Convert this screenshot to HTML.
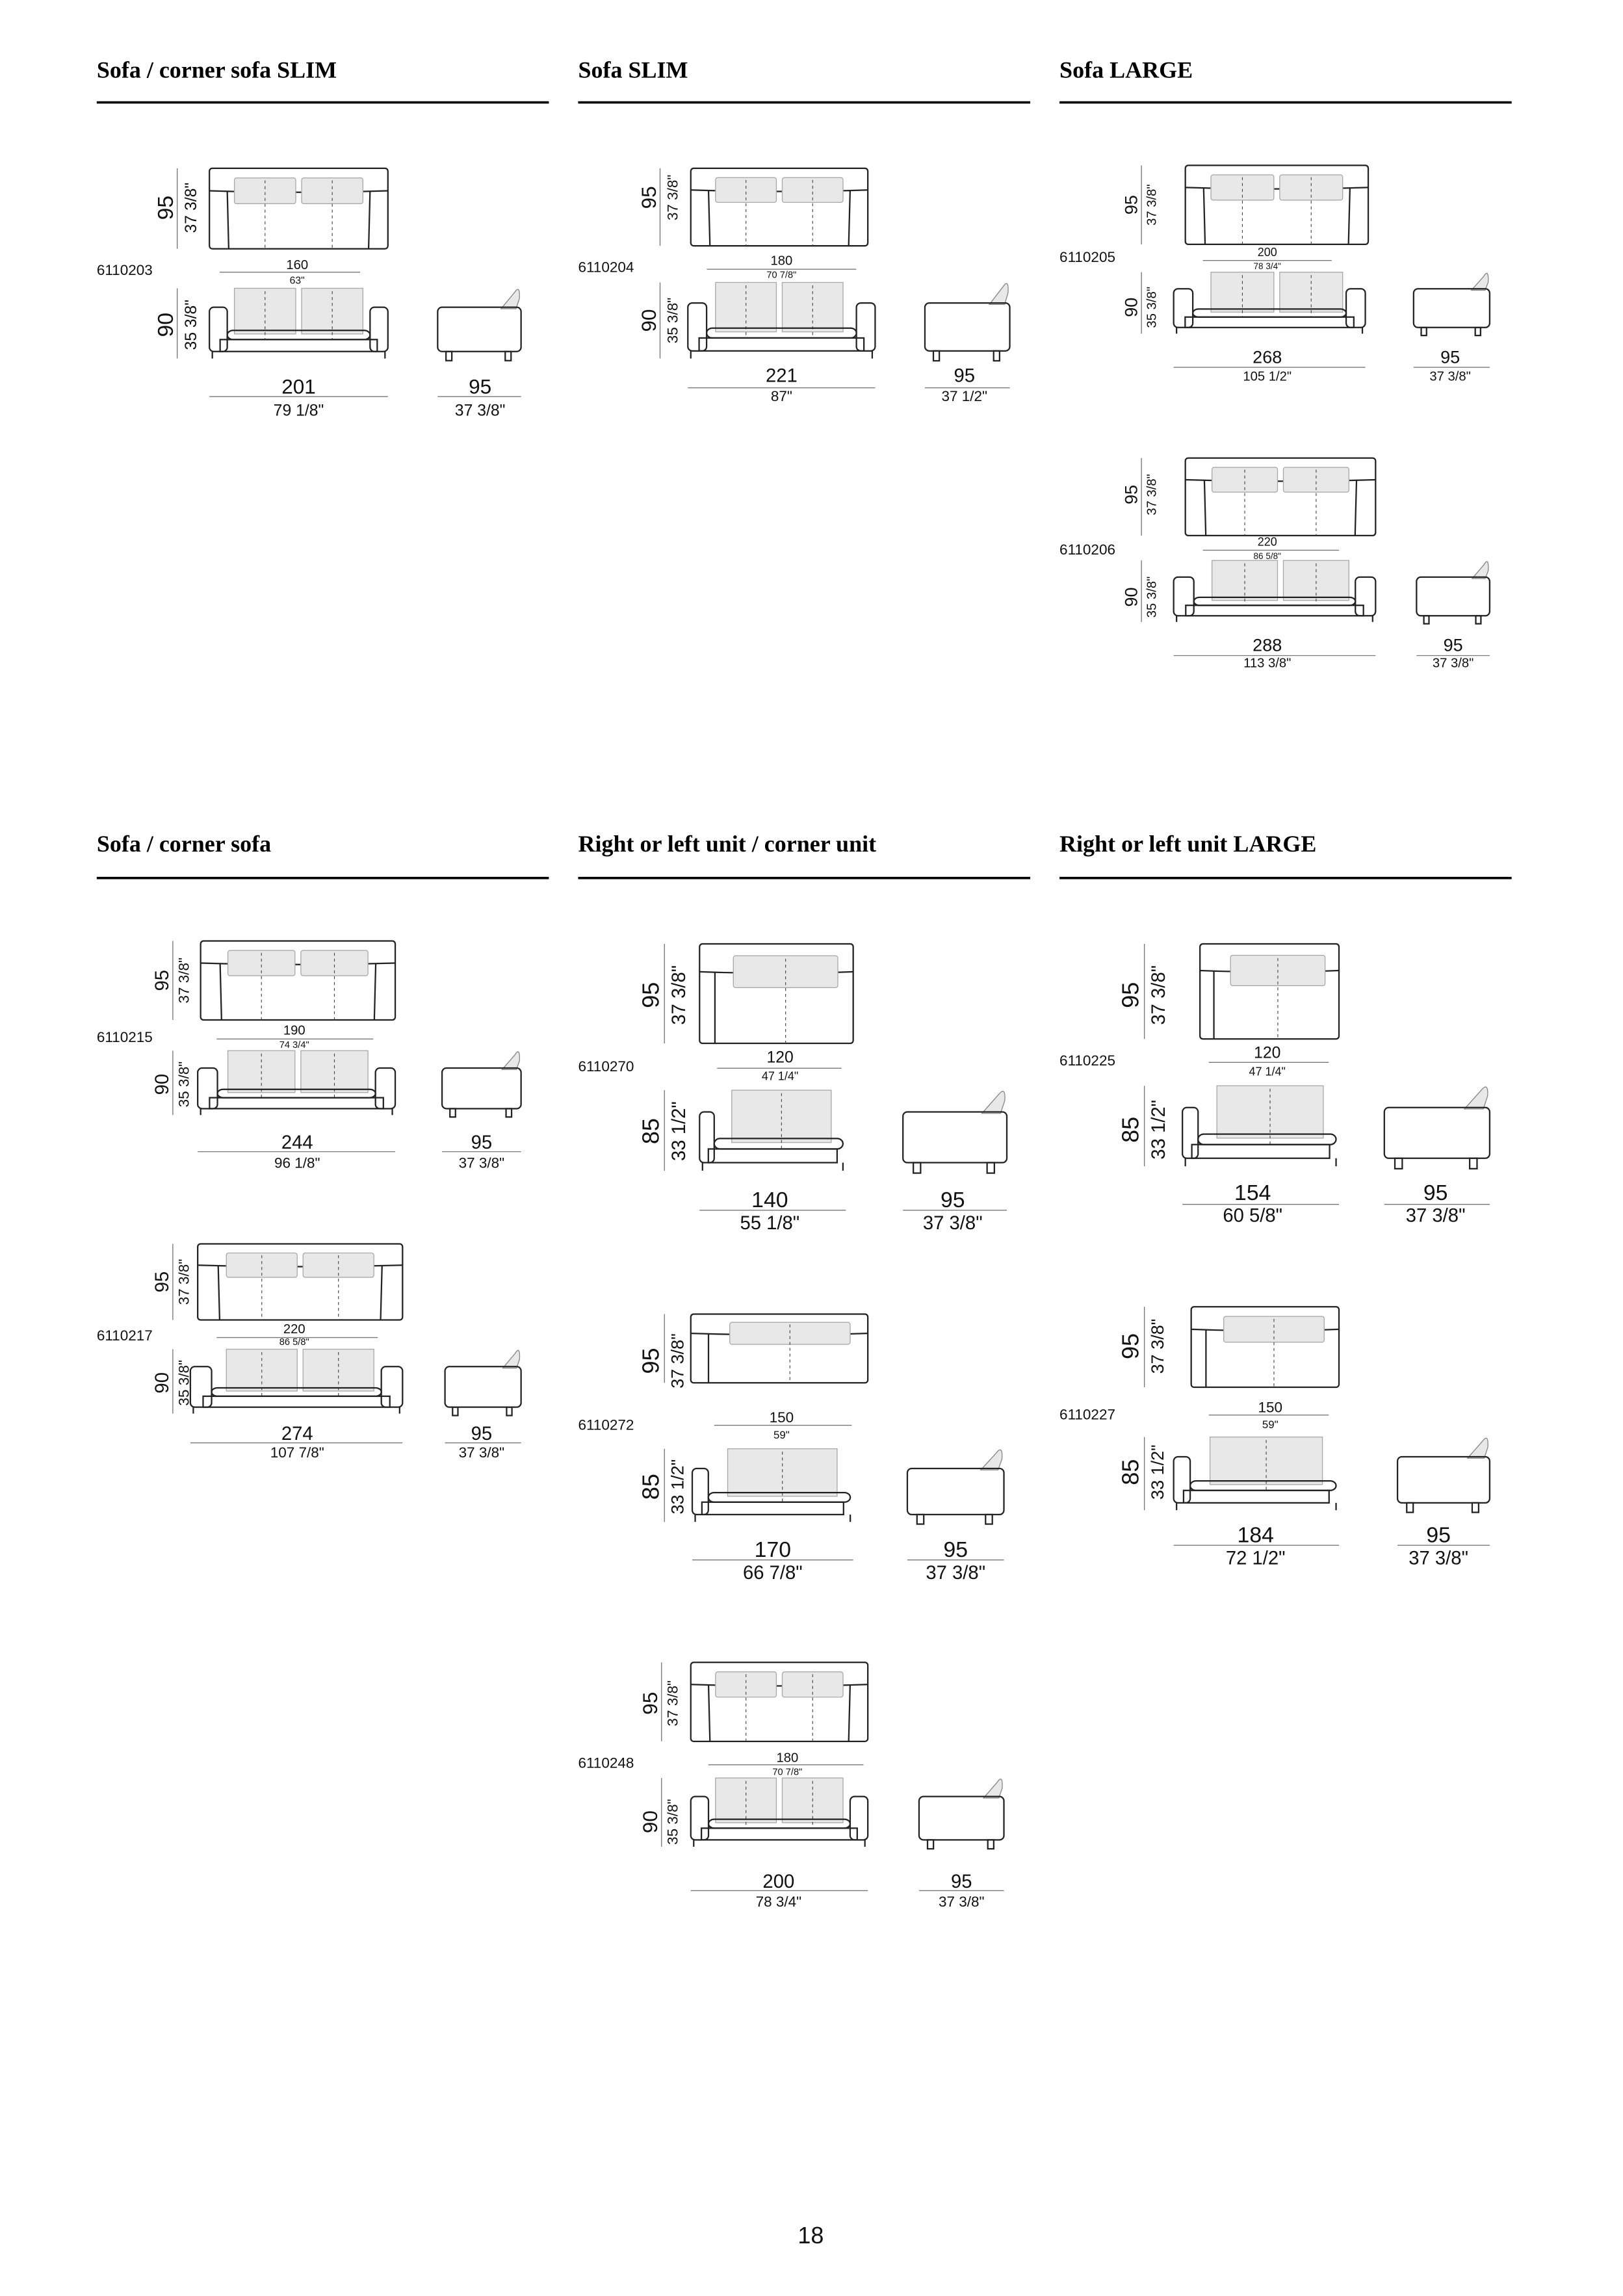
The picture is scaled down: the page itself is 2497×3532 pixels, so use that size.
<!DOCTYPE html>
<html><head><meta charset="utf-8">
<style>
html,body{margin:0;padding:0;background:#fff;}
svg{display:block;}
.t{font-family:"Liberation Serif",serif;font-weight:bold;font-size:16px;fill:#000;}
text{font-family:"Liberation Sans",sans-serif;fill:#111;}
.c{font-size:10px;}
.m{text-anchor:middle;}
</style></head><body>
<svg id="s" width="2497" height="3532" viewBox="0 0 1109 1569" xmlns="http://www.w3.org/2000/svg">
<rect width="1109" height="1569" fill="#fff"/>
<text class="t" x="66" y="53">Sofa / corner sofa SLIM</text>
<text class="t" x="395" y="53">Sofa SLIM</text>
<text class="t" x="724" y="53">Sofa LARGE</text>
<text class="t" x="66" y="582">Sofa / corner sofa</text>
<text class="t" x="395" y="582">Right or left unit / corner unit</text>
<text class="t" x="724" y="582">Right or left unit LARGE</text>
<g stroke="#000" stroke-width="1.6">
<line x1="66" y1="70" x2="375" y2="70"/><line x1="395" y1="70" x2="704" y2="70"/><line x1="724" y1="70" x2="1033" y2="70"/>
<line x1="66" y1="600" x2="375" y2="600"/><line x1="395" y1="600" x2="704" y2="600"/><line x1="724" y1="600" x2="1033" y2="600"/>
</g>
<g id="draw"></g>
<g id="dims" stroke="#777" stroke-width="0.6"></g>

<text class="c" x="66" y="188">6110203</text>
<text class="c" x="395" y="186">6110204</text>
<text class="c" x="724" y="179">6110205</text>
<text class="c" x="724" y="379">6110206</text>
<text class="c" x="66" y="712">6110215</text>
<text class="c" x="66" y="916">6110217</text>
<text class="c" x="395" y="732">6110270</text>
<text class="c" x="395" y="977">6110272</text>
<text class="c" x="395" y="1208">6110248</text>
<text class="c" x="724" y="728">6110225</text>
<text class="c" x="724" y="970">6110227</text>

<!-- A -->
<g transform="translate(118,142) rotate(-90)"><text class="m" font-size="15">95</text></g>
<g transform="translate(134,142) rotate(-90)"><text class="m" font-size="11">37 3/8"</text></g>
<g transform="translate(118,222) rotate(-90)"><text class="m" font-size="15">90</text></g>
<g transform="translate(134,222) rotate(-90)"><text class="m" font-size="11">35 3/8"</text></g>
<text class="m" x="203" y="184" font-size="9">160</text><text class="m" x="203" y="194" font-size="7">63"</text>
<text class="m" x="204" y="269" font-size="14">201</text><text class="m" x="204" y="284" font-size="11">79 1/8"</text>
<text class="m" x="328" y="269" font-size="14">95</text><text class="m" x="328" y="284" font-size="11">37 3/8"</text>

<!-- B -->
<g transform="translate(448,135) rotate(-90)"><text class="m" font-size="14">95</text></g>
<g transform="translate(463,135) rotate(-90)"><text class="m" font-size="10">37 3/8"</text></g>
<g transform="translate(448,219) rotate(-90)"><text class="m" font-size="14">90</text></g>
<g transform="translate(463,219) rotate(-90)"><text class="m" font-size="10">35 3/8"</text></g>
<text class="m" x="534" y="181" font-size="9">180</text><text class="m" x="534" y="190" font-size="6.5">70 7/8"</text>
<text class="m" x="534" y="261" font-size="13">221</text><text class="m" x="534" y="274" font-size="10">87"</text>
<text class="m" x="659" y="261" font-size="13">95</text><text class="m" x="659" y="274" font-size="10">37 1/2"</text>

<!-- C -->
<g transform="translate(777,140) rotate(-90)"><text class="m" font-size="12">95</text></g>
<g transform="translate(790,140) rotate(-90)"><text class="m" font-size="9">37 3/8"</text></g>
<g transform="translate(777,210) rotate(-90)"><text class="m" font-size="12">90</text></g>
<g transform="translate(790,210) rotate(-90)"><text class="m" font-size="9">35 3/8"</text></g>
<text class="m" x="866" y="175" font-size="8">200</text><text class="m" x="866" y="184" font-size="6">78 3/4"</text>
<text class="m" x="866" y="248" font-size="12">268</text><text class="m" x="866" y="260" font-size="9">105 1/2"</text>
<text class="m" x="991" y="248" font-size="12">95</text><text class="m" x="991" y="260" font-size="9">37 3/8"</text>

<!-- D -->
<g transform="translate(777,338) rotate(-90)"><text class="m" font-size="12">95</text></g>
<g transform="translate(790,338) rotate(-90)"><text class="m" font-size="9">37 3/8"</text></g>
<g transform="translate(777,408) rotate(-90)"><text class="m" font-size="12">90</text></g>
<g transform="translate(790,408) rotate(-90)"><text class="m" font-size="9">35 3/8"</text></g>
<text class="m" x="866" y="373" font-size="8">220</text><text class="m" x="866" y="382" font-size="6">86 5/8"</text>
<text class="m" x="866" y="445" font-size="12">288</text><text class="m" x="866" y="456" font-size="9">113 3/8"</text>
<text class="m" x="993" y="445" font-size="12">95</text><text class="m" x="993" y="456" font-size="9">37 3/8"</text>

<!-- E -->
<g transform="translate(115,670) rotate(-90)"><text class="m" font-size="13">95</text></g>
<g transform="translate(129,670) rotate(-90)"><text class="m" font-size="10">37 3/8"</text></g>
<g transform="translate(115,741) rotate(-90)"><text class="m" font-size="13">90</text></g>
<g transform="translate(129,741) rotate(-90)"><text class="m" font-size="10">35 3/8"</text></g>
<text class="m" x="201" y="707" font-size="9">190</text><text class="m" x="201" y="716" font-size="6.5">74 3/4"</text>
<text class="m" x="203" y="785" font-size="13">244</text><text class="m" x="203" y="798" font-size="10">96 1/8"</text>
<text class="m" x="329" y="785" font-size="13">95</text><text class="m" x="329" y="798" font-size="10">37 3/8"</text>

<!-- F -->
<g transform="translate(115,876) rotate(-90)"><text class="m" font-size="13">95</text></g>
<g transform="translate(129,876) rotate(-90)"><text class="m" font-size="10">37 3/8"</text></g>
<g transform="translate(115,945) rotate(-90)"><text class="m" font-size="13">90</text></g>
<g transform="translate(129,945) rotate(-90)"><text class="m" font-size="10">35 3/8"</text></g>
<text class="m" x="201" y="911" font-size="9">220</text><text class="m" x="201" y="919" font-size="6.5">86 5/8"</text>
<text class="m" x="203" y="984" font-size="13">274</text><text class="m" x="203" y="996" font-size="10">107 7/8"</text>
<text class="m" x="329" y="984" font-size="13">95</text><text class="m" x="329" y="996" font-size="10">37 3/8"</text>

<!-- G -->
<g transform="translate(450,680) rotate(-90)"><text class="m" font-size="16">95</text></g>
<g transform="translate(468,680) rotate(-90)"><text class="m" font-size="13">37 3/8"</text></g>
<g transform="translate(450,773) rotate(-90)"><text class="m" font-size="16">85</text></g>
<g transform="translate(468,773) rotate(-90)"><text class="m" font-size="13">33 1/2"</text></g>
<text class="m" x="533" y="726" font-size="11">120</text><text class="m" x="533" y="738" font-size="8">47 1/4"</text>
<text class="m" x="526" y="825" font-size="15">140</text><text class="m" x="526" y="840" font-size="13">55 1/8"</text>
<text class="m" x="651" y="825" font-size="15">95</text><text class="m" x="651" y="840" font-size="13">37 3/8"</text>

<!-- H -->
<g transform="translate(450,930) rotate(-90)"><text class="m" font-size="16">95</text></g>
<g transform="translate(467,930) rotate(-90)"><text class="m" font-size="12">37 3/8"</text></g>
<g transform="translate(450,1016) rotate(-90)"><text class="m" font-size="16">85</text></g>
<g transform="translate(467,1016) rotate(-90)"><text class="m" font-size="12">33 1/2"</text></g>
<text class="m" x="534" y="972" font-size="10">150</text><text class="m" x="534" y="983" font-size="7.5">59"</text>
<text class="m" x="528" y="1064" font-size="15">170</text><text class="m" x="528" y="1079" font-size="13">66 7/8"</text>
<text class="m" x="653" y="1064" font-size="15">95</text><text class="m" x="653" y="1079" font-size="13">37 3/8"</text>

<!-- I -->
<g transform="translate(449,1164) rotate(-90)"><text class="m" font-size="14">95</text></g>
<g transform="translate(463,1164) rotate(-90)"><text class="m" font-size="10">37 3/8"</text></g>
<g transform="translate(449,1245) rotate(-90)"><text class="m" font-size="14">90</text></g>
<g transform="translate(463,1245) rotate(-90)"><text class="m" font-size="10">35 3/8"</text></g>
<text class="m" x="538" y="1204" font-size="9">180</text><text class="m" x="538" y="1213" font-size="6.5">70 7/8"</text>
<text class="m" x="532" y="1290" font-size="13">200</text><text class="m" x="532" y="1303" font-size="10">78 3/4"</text>
<text class="m" x="657" y="1290" font-size="13">95</text><text class="m" x="657" y="1303" font-size="10">37 3/8"</text>

<!-- J -->
<g transform="translate(778,680) rotate(-90)"><text class="m" font-size="16">95</text></g>
<g transform="translate(796,680) rotate(-90)"><text class="m" font-size="13">37 3/8"</text></g>
<g transform="translate(778,772) rotate(-90)"><text class="m" font-size="16">85</text></g>
<g transform="translate(796,772) rotate(-90)"><text class="m" font-size="13">33 1/2"</text></g>
<text class="m" x="866" y="723" font-size="11">120</text><text class="m" x="866" y="735" font-size="8">47 1/4"</text>
<text class="m" x="856" y="820" font-size="15">154</text><text class="m" x="856" y="835" font-size="13">60 5/8"</text>
<text class="m" x="981" y="820" font-size="15">95</text><text class="m" x="981" y="835" font-size="13">37 3/8"</text>

<!-- K -->
<g transform="translate(778,920) rotate(-90)"><text class="m" font-size="16">95</text></g>
<g transform="translate(795,920) rotate(-90)"><text class="m" font-size="12">37 3/8"</text></g>
<g transform="translate(778,1006) rotate(-90)"><text class="m" font-size="16">85</text></g>
<g transform="translate(795,1006) rotate(-90)"><text class="m" font-size="12">33 1/2"</text></g>
<text class="m" x="868" y="965" font-size="10">150</text><text class="m" x="868" y="976" font-size="7.5">59"</text>
<text class="m" x="858" y="1054" font-size="15">184</text><text class="m" x="858" y="1069" font-size="13">72 1/2"</text>
<text class="m" x="983" y="1054" font-size="15">95</text><text class="m" x="983" y="1069" font-size="13">37 3/8"</text>

<text class="m" x="554" y="1533" font-size="16">18</text>
</svg>
<script>
(function(){
var NS="http://www.w3.org/2000/svg";
var D=document.getElementById("draw"),M=document.getElementById("dims");
function e(p,t,a){var n=document.createElementNS(NS,t);for(var k in a)n.setAttribute(k,a[k]);p.appendChild(n);return n;}
var S={fill:"none",stroke:"#222","stroke-width":"1"};
function o(a,b){var r={};for(var k in a)r[k]=a[k];for(var k in b)r[k]=b[k];return r;}
var G={fill:"#e8e8e8",stroke:"#aaa","stroke-width":"0.6"};
var DS={stroke:"#444","stroke-width":"0.5","stroke-dasharray":"2,2"};
function top(x1,y1,x2,y2,n,corner,lx){
 var w=x2-x1,h=y2-y1;
 e(D,"rect",o(S,{x:x1,y:y1,width:w,height:h,rx:2}));
 var by=y1+h*0.28,aw=w*0.1;
 e(D,"path",o(S,{d:"M"+x1+" "+by+" Q"+(x1+w/2)+" "+(by+2)+" "+x2+" "+by}));
 if(corner){e(D,"line",o(S,{x1:x1+aw,y1:by,x2:x1+aw,y2:y2}));}
 else{e(D,"line",o(S,{x1:x1+aw,y1:by,x2:x1+aw+1,y2:y2}));e(D,"line",o(S,{x1:x2-aw,y1:by,x2:x2-aw-1,y2:y2}));}
 var cx1=x1+w*0.14,cx2=x2-w*0.14,gap=4,cw=(cx2-cx1-(n-1)*gap)/n;
 if(corner){cx1=x1+w*0.22;cx2=x2-w*0.1;cw=(cx2-cx1-(n-1)*gap)/n;}
 for(var i=0;i<n;i++){var cx=cx1+i*(cw+gap);
  e(D,"rect",o(G,{x:cx,y:y1+h*0.12,width:cw,height:h*0.32,rx:1.5}));
  e(D,"line",o(DS,{x1:cx+cw/2,y1:y1+h*0.15,x2:cx+cw/2,y2:y2}));}
 e(M,"line",{x1:lx,y1:y1,x2:lx,y2:y2});
}
function front(x1,y1,x2,y2,n,corner,tx1,tx2,lx){
 var w=x2-x1,h=y2-y1,aw=w*0.1;
 var cx1=tx1+(tx2-tx1)*0.14,cx2=tx2-(tx2-tx1)*0.14,gap=4,cw;
 if(corner){cx1=x1+w*0.22;cx2=x2-w*0.1;}
 cw=(cx2-cx1-(n-1)*gap)/n;
 for(var i=0;i<n;i++){var cx=cx1+i*(cw+gap);
  e(D,"rect",o(G,{x:cx,y:y1,width:cw,height:h*0.65}));
  e(D,"line",o(DS,{x1:cx+cw/2,y1:y1+2,x2:cx+cw/2,y2:y1+h*0.72}));}
 var ay=y1+h*0.27;
 e(D,"rect",o(S,{x:x1,y:ay,width:aw,height:h*0.63,rx:3}));
 if(!corner)e(D,"rect",o(S,{x:x2-aw,y:ay,width:aw,height:h*0.63,rx:3}));
 e(D,"rect",o(S,{x:x1+aw,y:y1+h*0.6,width:corner?w-aw-2:w-2*aw,height:h*0.13,rx:4}));
 e(D,"rect",o(S,{x:x1+aw*0.6,y:y1+h*0.73,width:w-aw*1.2,height:h*0.17}));
 e(D,"line",o(S,{x1:x1+2,y1:y1+h*0.9,x2:x1+2,y2:y2}));
 e(D,"line",o(S,{x1:x2-2,y1:y1+h*0.9,x2:x2-2,y2:y2}));
 e(M,"line",{x1:lx,y1:y1,x2:lx,y2:y2});
}
function side(x1,y1,x2,y2){
 var w=x2-x1,h=y2-y1;
 var by=y1+h*0.27,bb=y2-h*0.1;
 e(D,"path",o(G,{d:"M"+(x2-w*0.24)+" "+(by+1)+" L"+(x2-w*0.08)+" "+(y1+3)+" Q"+(x2-w*0.01)+" "+(y1-3)+" "+(x2-w*0.02)+" "+(y1+7)+" L"+(x2-w*0.06)+" "+(by+1)+"Z",stroke:"#888"}));
 e(D,"rect",o(S,{x:x1,y:by,width:w,height:bb-by,rx:3}));
 e(D,"rect",o(S,{x:x1+w*0.1,y:bb,width:w*0.07,height:h*0.13}));
 e(D,"rect",o(S,{x:x2-w*0.19,y:bb,width:w*0.07,height:h*0.13}));
}
function hd(x1,x2,y){e(M,"line",{x1:x1,y1:y,x2:x2,y2:y});}
function unit(u){
 top(u.t[0],u.t[1],u.t[2],u.t[3],u.n,u.c,u.lx);
 front(u.f[0],u.f[1],u.f[2],u.f[3],u.n,u.c,u.t[0],u.t[2],u.lx);
 side(u.s[0],u.f[1],u.s[1],u.f[3]);
 hd(u.tl[0],u.tl[1],u.tl[2]);hd(u.f[0],u.f[2],u.fl);hd(u.s[0],u.s[1],u.fl);
}
var U=[
 {t:[143,115,265,170],f:[143,197,265,245],s:[299,356],n:2,tl:[150,246,186],fl:271,lx:121},
 {t:[472,115,593,168],f:[470,193,598,245],s:[632,690],n:2,tl:[483,585,184],fl:265,lx:451},
 {t:[810,113,935,167],f:[802,186,933,228],s:[966,1018],n:2,tl:[822,910,178],fl:251,lx:780},
 {t:[810,313,940,366],f:[802,383,940,425],s:[968,1018],n:2,tl:[822,915,376],fl:448,lx:780},
 {t:[137,643,270,697],f:[135,718,270,762],s:[302,356],n:2,tl:[148,255,710],fl:787,lx:118},
 {t:[135,850,275,902],f:[130,922,275,966],s:[304,356],n:2,tl:[148,258,914],fl:986,lx:118},
 {t:[478,645,583,713],f:[478,745,578,800],s:[617,688],n:1,c:1,tl:[490,575,730],fl:827,lx:454},
 {t:[472,898,593,945],f:[473,990,583,1040],s:[620,686],n:1,c:1,tl:[488,582,974],fl:1066,lx:454},
 {t:[472,1136,593,1190],f:[472,1215,593,1262],s:[628,686],n:2,tl:[484,590,1206],fl:1292,lx:452},
 {t:[820,645,915,710],f:[808,742,915,797],s:[946,1018],n:1,c:1,tl:[826,908,726],fl:823,lx:782},
 {t:[814,893,915,948],f:[802,982,915,1032],s:[955,1018],n:1,c:1,tl:[826,908,967],fl:1056,lx:782}
];
U.forEach(unit);
})();
</script>
</body></html>
